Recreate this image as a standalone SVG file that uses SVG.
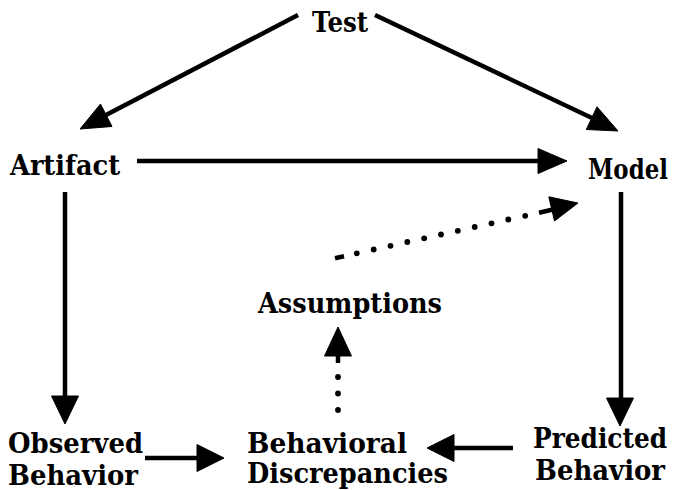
<svg xmlns="http://www.w3.org/2000/svg" width="677" height="490" viewBox="0 0 677 490">
<style>
  .lbl { font-family: "DejaVu Serif", "Liberation Serif", serif; font-weight: bold; font-size: 27px; fill: #000; }
  .ln { stroke: #000; stroke-width: 4.5; fill: none; }
  .dot { fill: #000; }
  .hd { fill: #000; stroke: #000; stroke-width: 1; stroke-linejoin: miter; }
</style>
<rect width="677" height="490" fill="#fff"/>
<g id="connectors">
  <!-- Test -> Artifact -->
  <line class="ln" x1="298" y1="15" x2="106" y2="115"/>
  <polygon class="hd" points="80,129 112,126.5 100.5,104"/>
  <!-- Test -> Model -->
  <line class="ln" x1="375" y1="15" x2="592" y2="118"/>
  <polygon class="hd" points="618,131 586.3,129.5 597,106.8"/>
  <!-- Artifact -> Model -->
  <line class="ln" x1="137" y1="161" x2="540" y2="161"/>
  <polygon class="hd" points="567,161 538,148.5 538,173.5"/>
  <!-- Artifact -> Observed Behavior -->
  <line class="ln" x1="65" y1="192" x2="65" y2="398"/>
  <polygon class="hd" points="65,424 51.5,396 78.5,396"/>
  <!-- Model -> Predicted Behavior -->
  <line class="ln" x1="621" y1="192" x2="621" y2="400"/>
  <polygon class="hd" points="620,426 606.5,398 633.5,398"/>
  <!-- Observed Behavior -> Behavioral Discrepancies -->
  <line class="ln" x1="145" y1="458" x2="199" y2="458"/>
  <polygon class="hd" points="224,458 197,444.5 197,471.5"/>
  <!-- Predicted Behavior -> Behavioral Discrepancies -->
  <line class="ln" x1="513" y1="448" x2="451" y2="448"/>
  <polygon class="hd" points="427,448 454,434.5 454,461.5"/>
  <!-- Assumptions -> Model (dotted) -->
  <line class="ln" x1="335" y1="258.2" x2="344" y2="256.2"/>
  <circle class="dot" cx="356.8" cy="253.3" r="2.9"/>
  <circle class="dot" cx="373.7" cy="249.5" r="2.9"/>
  <circle class="dot" cx="390.5" cy="245.8" r="2.9"/>
  <circle class="dot" cx="407.3" cy="242" r="2.9"/>
  <circle class="dot" cx="424.2" cy="238.3" r="2.9"/>
  <circle class="dot" cx="441" cy="234.5" r="2.9"/>
  <circle class="dot" cx="457.8" cy="230.8" r="2.9"/>
  <circle class="dot" cx="474.7" cy="227" r="2.9"/>
  <circle class="dot" cx="491.5" cy="223.3" r="2.9"/>
  <circle class="dot" cx="508.3" cy="219.5" r="2.9"/>
  <circle class="dot" cx="525.2" cy="215.8" r="2.9"/>
  <line class="ln" x1="539" y1="212.7" x2="553" y2="209.5"/>
  <polygon class="hd" points="578,203 554.5,221 548.8,196.8"/>
  <!-- Behavioral Discrepancies -> Assumptions (dotted) -->
  <circle class="dot" cx="338" cy="377" r="2.9"/>
  <circle class="dot" cx="338" cy="393.5" r="2.9"/>
  <circle class="dot" cx="338" cy="410" r="2.9"/>
  <line class="ln" x1="338" y1="354" x2="338" y2="363"/>
  <polygon class="hd" points="338,327 324.5,356 351.5,356"/>
</g>
<g id="node-test"><text class="lbl" x="312" y="32" textLength="56" lengthAdjust="spacingAndGlyphs">Test</text></g>
<g id="node-artifact"><text class="lbl" x="10" y="175" textLength="110" lengthAdjust="spacingAndGlyphs">Artifact</text></g>
<g id="node-model"><text class="lbl" transform="translate(588,179) scale(0.86,1)" x="0" y="0" textLength="93" lengthAdjust="spacingAndGlyphs">Model</text></g>
<g id="node-assumptions"><text class="lbl" x="258" y="313" textLength="184" lengthAdjust="spacingAndGlyphs">Assumptions</text></g>
<g id="node-observed">
  <text class="lbl" x="8" y="453" textLength="135" lengthAdjust="spacingAndGlyphs">Observed</text>
  <text class="lbl" x="8" y="485" textLength="130" lengthAdjust="spacingAndGlyphs">Behavior</text>
</g>
<g id="node-discrepancies">
  <text class="lbl" x="247" y="453" textLength="160" lengthAdjust="spacingAndGlyphs">Behavioral</text>
  <text class="lbl" x="247" y="483" textLength="201" lengthAdjust="spacingAndGlyphs">Discrepancies</text>
</g>
<g id="node-predicted">
  <text class="lbl" transform="translate(533,448) scale(0.9,1)" x="0" y="0" textLength="149" lengthAdjust="spacingAndGlyphs">Predicted</text>
  <text class="lbl" x="535" y="480" textLength="130" lengthAdjust="spacingAndGlyphs">Behavior</text>
</g>
</svg>
